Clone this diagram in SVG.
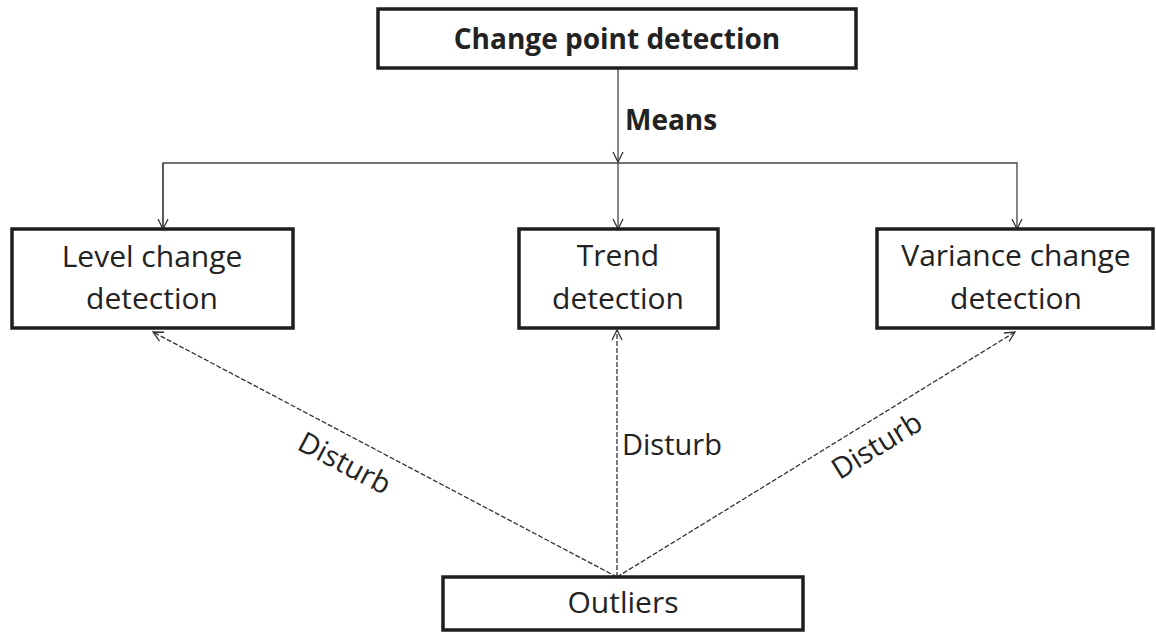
<svg xmlns="http://www.w3.org/2000/svg" width="1156" height="632" viewBox="0 0 1156 632">
<defs>
<marker id="arr" viewBox="0 0 12 12" refX="11" refY="6" markerWidth="12" markerHeight="12" markerUnits="userSpaceOnUse" orient="auto">
<path d="M1,1 L11,6 L1,11" fill="none" stroke="#333" stroke-width="1.3"/>
</marker>
</defs>
<style>
.box{fill:#fff;stroke:#1e1e1e;stroke-width:3.5}
.t{font-family:"Open Sans","Liberation Sans",sans-serif;font-size:30px;fill:#222;text-anchor:middle}
.b{font-family:"Open Sans","Liberation Sans",sans-serif;font-size:28px;font-weight:bold;fill:#222}
.c{fill:none;stroke:#444;stroke-width:1.3}
.d{fill:none;stroke:#333;stroke-width:1.3;stroke-dasharray:5,2}
.l{font-family:"Open Sans","Liberation Sans",sans-serif;font-size:29px;fill:#222}
</style>
<rect width="1156" height="632" fill="#fff"/>
<g id="connectors">
<line class="c" x1="618" y1="68" x2="618" y2="162" marker-end="url(#arr)"/>
<polyline class="c" points="163,229 163,163 1017,163 1017,229" marker-end="url(#arr)"/>
<line class="c" x1="163" y1="163" x2="163" y2="229" marker-end="url(#arr)"/>
<line class="c" x1="618" y1="163" x2="618" y2="229" marker-end="url(#arr)"/>
<text class="b" x="625" y="130">Means</text>
<line class="d" x1="617" y1="577" x2="153" y2="332" marker-end="url(#arr)"/>
<line class="d" x1="617" y1="577" x2="617" y2="330" marker-end="url(#arr)"/>
<line class="d" x1="617" y1="577" x2="1015" y2="332" marker-end="url(#arr)"/>
<text class="l" text-anchor="middle" transform="translate(340,472) rotate(27.8)">Disturb</text>
<text class="l" x="622" y="455">Disturb</text>
<text class="l" text-anchor="middle" transform="translate(882,454) rotate(-31.6)">Disturb</text>
</g>
<g id="node-change-point">
<rect class="box" x="378" y="9" width="478" height="59"/>
<text class="b" x="617" y="49" text-anchor="middle">Change point detection</text>
</g>
<g id="node-level">
<rect class="box" x="12" y="229" width="281" height="99"/>
<text class="t" x="152" y="267">Level change</text>
<text class="t" x="152" y="309">detection</text>
</g>
<g id="node-trend">
<rect class="box" x="519" y="229" width="199" height="99"/>
<text class="t" x="618" y="266">Trend</text>
<text class="t" x="618" y="309">detection</text>
</g>
<g id="node-variance">
<rect class="box" x="877" y="229" width="276" height="99"/>
<text class="t" x="1016" y="266">Variance change</text>
<text class="t" x="1016" y="309">detection</text>
</g>
<g id="node-outliers">
<rect class="box" x="443" y="577" width="360" height="53"/>
<text class="t" x="623" y="613">Outliers</text>
</g>
</svg>
